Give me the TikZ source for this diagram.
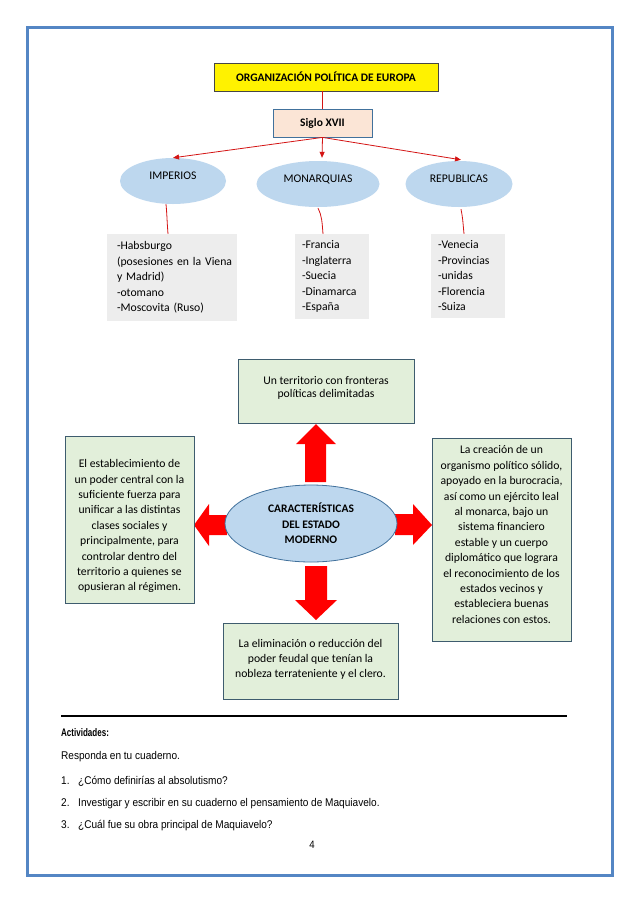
\documentclass[tikz,border=0pt]{standalone}
\usepackage{fontspec}
\setmainfont{Carlito}
\newfontfamily\arialn[FakeStretch=0.9]{Liberation Sans}
\newfontfamily\arialplain{Liberation Sans}
\usetikzlibrary{arrows.meta,shapes.geometric}
\definecolor{pageblue}{RGB}{84,134,196}
\definecolor{titleborder}{RGB}{70,70,70}
\definecolor{sigfill}{RGB}{251,229,214}
\definecolor{sigborder}{RGB}{65,113,156}
\definecolor{ellfill}{RGB}{189,215,238}
\definecolor{ellborder}{RGB}{65,113,156}
\definecolor{listfill}{RGB}{237,237,237}
\definecolor{greenfill}{RGB}{226,239,218}
\definecolor{greenborder}{RGB}{62,92,110}
\definecolor{linered}{RGB}{212,20,20}
\definecolor{arrowred}{RGB}{255,0,0}
\begin{document}
\begin{tikzpicture}[x=1pt,y=-1pt,
  cal/.style={font=\fontsize{11.7}{15.5}\selectfont},
  titlebox/.style={draw=titleborder, line width=0.8pt, fill=yellow, inner sep=0pt,
    font=\bfseries\fontsize{11.5}{14}\selectfont},
  sigbox/.style={draw=sigborder, line width=0.8pt, fill=sigfill, inner sep=0pt,
    font=\bfseries\fontsize{11.5}{14}\selectfont},
  topell/.style={ellipse, fill=ellfill, inner sep=0pt, cal, text height=8pt, text depth=11pt},
  listbox/.style={fill=listfill, inner ysep=0pt, align=left, cal},
  greenbox/.style={draw=greenborder, line width=0.8pt, fill=greenfill, inner sep=0pt, align=center,
    font=\fontsize{11.7}{15.4}\selectfont},
  redline/.style={draw=linered, line width=0.8pt},
  redarrow/.style={redline, -{Triangle[length=6pt,width=5pt]}},
  blockarrow/.style={fill=arrowred},
  bottomtext/.style={inner sep=0pt, anchor=base west, font=\arialn\fontsize{11.2}{13}\selectfont}
]
\useasboundingbox (0,0) rectangle (638,903);
\fill[white] (0,0) rectangle (638,903);
\draw[pageblue, line width=3pt] (27,27) rectangle (612,875);

% top part
\node[titlebox, minimum width=224pt, minimum height=28pt] (title) at (326,77) {ORGANIZACIÓN POLÍTICA DE EUROPA};
\node[sigbox, minimum width=99pt, minimum height=28pt] (siglo) at (322.5,123) {Siglo XVII};
\draw[redline] (siglo.north |- title.south) -- (siglo.north);

\node[topell, minimum width=106pt, minimum height=46pt] (imp) at (173,181) {IMPERIOS};
\node[topell, minimum width=123pt, minimum height=46pt] (mon) at (318,184) {MONARQUIAS};
\node[topell, minimum width=107pt, minimum height=46pt] (rep) at (459,184) {REPUBLICAS};

\draw[redarrow] (siglo.south) -- (imp.north);
\draw[redarrow] (siglo.south) -- ([xshift=4pt,yshift=3pt]mon.north);
\draw[redarrow] (siglo.south) -- ([xshift=2pt,yshift=1pt]rep.north);

\node[listbox, inner xsep=10pt, text width=110pt, minimum height=87pt] (implist) at (172,277.5)
  {-Habsburgo\\\mbox{(posesiones en la Viena}\\y Madrid)\\-otomano\\-Moscovita (Ruso)};
\node[listbox, inner xsep=7pt, text width=60pt, minimum height=85pt] (monlist) at (332,276.5)
  {-Francia\\-Inglaterra\\-Suecia\\-Dinamarca\\-España};
\node[listbox, inner xsep=7pt, text width=60pt, minimum height=84pt] (replist) at (468,276)
  {-Venecia\\-Provincias\\-unidas\\-Florencia\\-Suiza};

\draw[redline] ([xshift=-7pt]imp.south) .. controls +(1,10) and +(-1,-12) .. ([xshift=-4pt]implist.north);
\draw[redline] ([xshift=0pt,yshift=-1pt]mon.south) .. controls +(4,8) and +(-1,-12) .. ([xshift=-9pt]monlist.north);
\draw[redline] ([xshift=2pt,yshift=-2pt]rep.south) .. controls +(2,10) and +(-1,-10) .. ([xshift=-4pt]replist.north);

% block arrows
\fill[blockarrow] (305,482) -- (305,444) -- (296,444) -- (316,424) -- (336,444) -- (326,444) -- (326,482) -- cycle;
\fill[blockarrow] (305,566) -- (305,600) -- (295,600) -- (316,620) -- (337,600) -- (327,600) -- (327,566) -- cycle;
\fill[blockarrow] (227,515) -- (209,515) -- (209,504) -- (194,525) -- (209,546) -- (209,535) -- (227,535) -- cycle;
\fill[blockarrow] (395,514) -- (413,514) -- (413,504) -- (432,525) -- (413,545) -- (413,535) -- (395,535) -- cycle;

% center
\node[ellipse, draw=ellborder, line width=0.8pt, fill=ellfill, inner sep=0pt, minimum width=172pt, minimum height=77pt,
  align=center, font=\bfseries\fontsize{11.5}{15.5}\selectfont] (cm) at (311,523.5) {CARACTERÍSTICAS\\DEL ESTADO\\MODERNO};

\node[greenbox, minimum width=176pt, minimum height=64pt, font=\fontsize{11.7}{13}\selectfont] (gtop) at (326,391)
  {Un territorio con fronteras\\políticas delimitadas\rule[-7.5pt]{0pt}{0pt}};
\node[greenbox, minimum width=129pt, minimum height=167pt] (gleft) at (129.5,519.5)
  {\rule{0pt}{21.5pt}El establecimiento de\\un poder central con la\\suficiente fuerza para\\unificar a las distintas\\clases sociales y\\principalmente, para\\controlar dentro del\\territorio a quienes se\\opusieran al régimen.};
\node[greenbox, minimum width=139pt, minimum height=203pt] (gright) at (501.5,539.5)
  {La creación de un\\organismo político sólido,\\apoyado en la burocracia,\\así como un ejército leal\\al monarca, bajo un\\sistema financiero\\estable y un cuerpo\\diplomático que lograra\\el reconocimiento de los\\estados vecinos y\\estableciera buenas\\relaciones con estos.\rule[-10pt]{0pt}{0pt}};
\node[greenbox, minimum width=175pt, minimum height=76pt, font=\fontsize{11.7}{15}\selectfont] (gbot) at (310.5,661)
  {La eliminación o reducción del\\poder feudal que tenían la\\nobleza terrateniente y el clero.\rule[-6pt]{0pt}{0pt}};

% bottom
\coordinate (hlA) at (61,716);
\coordinate (hlB) at (567,716);
\draw[line width=1.8pt] (hlA) -- (hlB);
\node[bottomtext, font=\arialplain\bfseries\fontsize{11}{13}\selectfont] (act) at (61,736) {\scalebox{0.73}[1]{Actividades:}};
\node[bottomtext] (resp) at (61,759) {Responda en tu cuaderno.};
\node[bottomtext] (n1) at (61,784) {1.};
\node[bottomtext] (t1) at (78,784) {¿Cómo definirías al absolutismo?};
\node[bottomtext] (n2) at (61,806) {2.};
\node[bottomtext] (t2) at (78,806) {Investigar y escribir en su cuaderno el pensamiento de Maquiavelo.};
\node[bottomtext] (n3) at (61,828) {3.};
\node[bottomtext] (t3) at (78,828) {¿Cuál fue su obra principal de Maquiavelo?};
\node[inner sep=0pt, anchor=base, font=\arialn\fontsize{10.7}{13}\selectfont] (pnum) at (312,848) {4};
\end{tikzpicture}
\end{document}
